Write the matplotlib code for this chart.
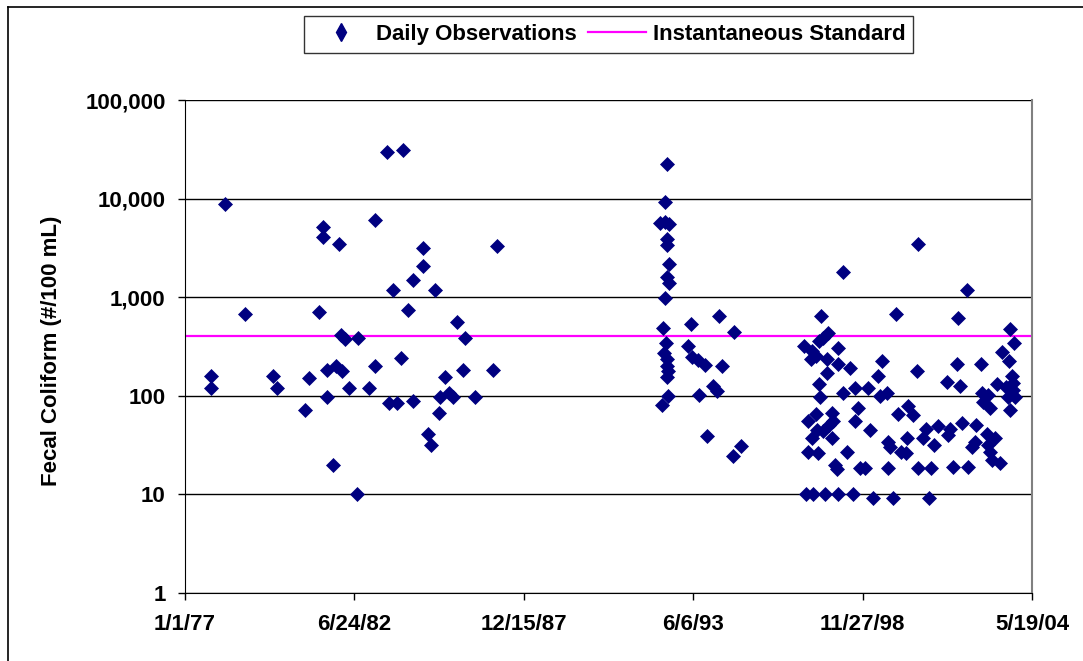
import matplotlib
matplotlib.use("Agg")
import matplotlib.pyplot as plt
from matplotlib.lines import Line2D
from matplotlib.ticker import FixedLocator, FuncFormatter, NullLocator
import pandas as pd

# ---------------- data (decimal year of sample, fecal coliform #/100 mL) ----------------
p1_year = [1977.84, 1977.84, 1978.29, 1978.94, 1979.84, 1979.97, 1980.88, 1981.01, 1981.33, 1981.46,
           1981.46, 1981.59, 1981.59, 1981.78, 1981.88, 1981.98, 1982.04, 1982.07, 1982.17, 1982.30,
           1982.56, 1982.59, 1982.95, 1983.14, 1983.14, 1983.53, 1983.59, 1983.72, 1983.85, 1983.98,
           1984.05, 1984.21, 1984.37, 1984.37, 1984.69, 1984.69, 1984.85, 1984.95, 1985.08, 1985.21,
           1985.24, 1985.40, 1985.53, 1985.66, 1985.79, 1985.99, 1986.05, 1986.37, 1986.95, 1987.08]
p1_fc = [158, 119, 8800, 670, 158, 119, 71, 150, 700, 5100,
         4100, 183, 98, 20, 200, 3440, 410, 180, 380, 119,
         10, 385, 119, 6000, 200, 29500, 85, 1180, 85, 240,
         31000, 736, 1490, 89, 3180, 2070, 41, 32, 1180, 67,
         98, 156, 106, 98, 556, 183, 383, 98, 183, 3300]

p2_year = [1992.58, 1992.51, 1992.35, 1992.64, 1992.51, 1992.58, 1992.58, 1992.64, 1992.58, 1992.64,
           1992.51, 1992.45, 1992.55, 1992.58, 1992.58, 1992.58, 1992.61, 1992.42, 1992.48, 1992.61,
           1993.26, 1993.35, 1993.39, 1993.58, 1993.61, 1993.81, 1993.87, 1994.07, 1994.19, 1994.26,
           1994.36, 1994.71, 1994.74, 1994.97]
p2_fc = [22400, 9230, 5600, 5500, 5800, 3870, 3390, 2170, 1590, 1400,
         975, 484, 341, 235, 200, 155, 100, 81, 270, 180,
         323, 535, 250, 230, 103, 205, 39, 126, 112, 645,
         200, 24.6, 440, 31]

p3_year = [1998.27, 1997.56, 1999.98, 1997.78, 1997.62, 1997.49, 1997.01, 1997.27, 1997.39, 1997.23,
           1998.11, 1997.75, 1998.11, 1998.49, 1999.53, 1997.75, 1999.40, 1997.49, 1997.52, 1998.27,
           1998.65, 1999.08, 1999.46, 1999.69, 1998.75, 2000.04, 1997.39, 1997.14, 1997.91, 1997.94,
           1997.81, 1998.65, 1997.43, 1997.62, 1997.27, 1997.91, 1999.14, 1999.72, 1999.79, 1997.14,
           1997.46, 1998.40, 2000.14, 2000.30, 1998.01, 1998.07, 1998.82, 1998.98, 1999.72, 1997.07,
           1997.30, 1997.69, 1998.11, 1998.59, 1999.24, 1999.88,
           2000.69, 2002.27, 2001.98, 2003.66, 2003.79, 2003.41, 2003.63, 2000.66, 2001.95, 2002.73,
           2001.63, 2002.05, 2003.24, 2003.73, 2003.76, 2003.54, 2003.76, 2002.76, 2002.95, 2002.79,
           2003.02, 2003.60, 2003.83, 2003.66, 2000.37, 2000.53, 2000.34, 2000.95, 2000.85, 2001.21,
           2001.34, 2001.73, 2001.66, 2002.11, 2002.57, 2002.53, 2002.44, 2002.92, 2003.18, 2002.95,
           2003.02, 2003.08, 2003.34, 2000.69, 2001.11, 2001.82, 2002.31, 2001.05]
p3_fc = [1790, 645, 670, 430, 383, 360, 320, 286, 253, 238,
         307, 235, 209, 193, 227, 171, 158, 132, 98, 108,
         119, 119, 100, 108, 75, 66, 65, 55, 67, 56,
         50, 56, 45, 44, 37, 37, 45, 34, 30, 27,
         26.5, 26.8, 27, 26.5, 19.9, 18, 18.4, 18.4, 18.4, 10,
         10, 10, 10, 10, 9.1, 9.1,
         3460, 1180, 611, 472, 340, 276, 227, 180, 209, 209,
         137, 126, 132, 160, 134, 124, 114, 108, 101, 87,
         75, 98, 98, 71, 78, 64, 37, 45.6, 37, 32,
         49, 45.6, 40, 53, 50, 34, 30, 41, 37, 32,
         27, 22.4, 21, 18.4, 18.4, 19, 19, 9.1]

standard_value = 400
tick_dates = ["1977-01-01", "1982-06-24", "1987-12-15", "1993-06-06", "1998-11-27", "2004-05-19"]
tick_labels = ["1/1/77", "6/24/82", "12/15/87", "6/6/93", "11/27/98", "5/19/04"]
y_ticks = [1, 10, 100, 1000, 10000, 100000]

series_name = "Daily Observations"
standard_name = "Instantaneous Standard"
y_title = "Fecal Coliform (#/100 mL)"


def to_dates(years):
    base = pd.Timestamp("1977-01-01")
    return [base + pd.Timedelta(days=(y - 1977.0) * 365.25) for y in years]


dates = to_dates(p1_year) + to_dates(p2_year) + to_dates(p3_year)
values = p1_fc + p2_fc + p3_fc

# ---------------- figure ----------------
W, H = 1083, 661
fig = plt.figure(figsize=(W / 100, H / 100), dpi=100)
FONT = ["Liberation Sans", "DejaVu Sans"]
plt.rcParams["font.family"] = FONT
FS = 16

ax = fig.add_axes([185 / W, 1 - 593 / H, (1032 - 185) / W, (593 - 100) / H])

navy = "#000080"
ax.plot(dates, values, linestyle="none", marker="D", markersize=7.6,
        markerfacecolor=navy, markeredgecolor=navy, markeredgewidth=0.5, zorder=3)

xmin = pd.Timestamp(tick_dates[0])
xmax = pd.Timestamp(tick_dates[-1])
ax.plot([xmin, xmax], [standard_value, standard_value], color="#FF00FF", lw=1.6, zorder=2)

ax.set_yscale("log")
ax.set_ylim(y_ticks[0], y_ticks[-1])
ax.set_xlim(xmin, xmax)

ax.yaxis.set_major_locator(FixedLocator(y_ticks))
ax.yaxis.set_minor_locator(NullLocator())
ax.yaxis.set_major_formatter(FuncFormatter(lambda v, p: f"{int(round(v)):,}"))

ax.set_xticks([pd.Timestamp(d) for d in tick_dates])
ax.set_xticklabels(tick_labels)
ax.xaxis.set_minor_locator(NullLocator())

for lab in ax.get_xticklabels() + ax.get_yticklabels():
    lab.set_fontweight("bold")
    lab.set_fontsize(FS)
    lab.set_family(FONT)

ax.tick_params(axis="y", direction="out", length=5, width=1, pad=9, colors="black")
ax.tick_params(axis="x", direction="out", length=5, width=1, pad=10, colors="black")

ax.grid(axis="y", which="major", color="black", lw=1)
ax.set_axisbelow(True)

ax.spines["top"].set_visible(False)
ax.spines["right"].set_color("#808080")
ax.spines["right"].set_linewidth(1.5)
ax.spines["left"].set_color("black")
ax.spines["bottom"].set_color("black")

ax.set_ylabel(y_title, fontsize=FS, fontweight="bold", family=FONT)
ax.yaxis.set_label_coords((62 - 185) / (1032 - 185), (593 - 351) / (593 - 100))

# legend
handles = [Line2D([], [], linestyle="none", marker="d", markersize=9,
                  markerfacecolor=navy, markeredgecolor=navy),
           Line2D([], [], color="#FF00FF", lw=1.6)]
leg = fig.legend(handles, [series_name, standard_name], loc="center",
                 bbox_to_anchor=(608.5 / W, 1 - 34.5 / H), ncol=2, frameon=True,
                 fancybox=False, shadow=False, prop={"family": FONT, "weight": "bold", "size": FS},
                 handlelength=2.6, handletextpad=0.3, columnspacing=0.5, borderpad=0.35)
leg.get_frame().set_edgecolor("black")
leg.get_frame().set_linewidth(1.0)

# outer chart border (left and top visible)
fig.add_artist(Line2D([8 / W, 8 / W], [0, 1 - 7 / H], color="black", lw=1.2, transform=fig.transFigure))
fig.add_artist(Line2D([8 / W, 1], [1 - 7 / H, 1 - 7 / H], color="black", lw=1.2, transform=fig.transFigure))

fig.savefig("out.png", dpi=100)
